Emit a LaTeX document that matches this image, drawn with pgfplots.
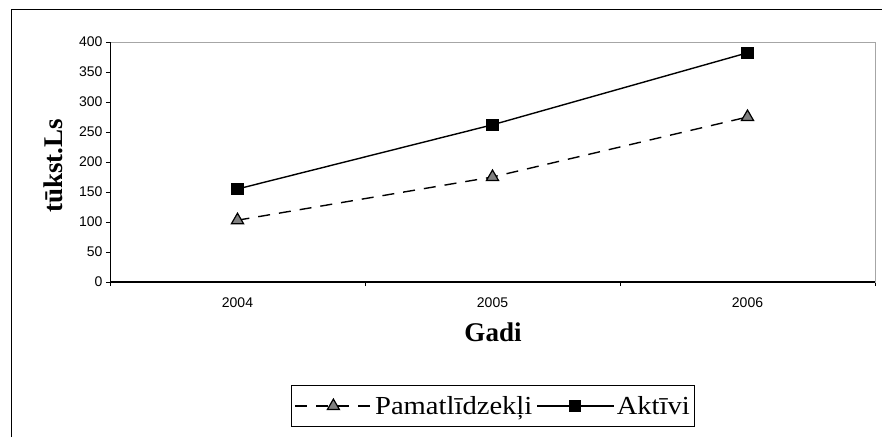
\documentclass[border=0pt]{standalone}
\usepackage{fontspec}
\setmainfont{Liberation Serif}
\newfontfamily\arial{Liberation Sans}
\newfontfamily\legfont[FakeStretch=1.1]{Liberation Serif}
\usepackage{pgfplots}
\pgfplotsset{compat=1.18}
\begin{document}
\begin{tikzpicture}[x=1pt,y=1pt]
\useasboundingbox (0,0) rectangle (882,437);
\draw[line width=1pt] (11,0) -- (11,427) -- (882,427);
\begin{axis}[
    at={(110pt,155pt)}, anchor=south west,
    scale only axis, width=765pt, height=240pt,
    xmin=-0.5, xmax=2.5, ymin=0, ymax=400,
    ytick={0,50,...,400},
    xtick={-0.5,0.5,1.5,2.5}, xticklabels={},
    extra x ticks={0,1,2},
    extra x tick labels={2004,2005,2006},
    extra x tick style={major tick length=0pt,
        xticklabel style={yshift=-12pt}},
    tick align=outside, xtick pos=bottom, ytick pos=left,
    major tick length=4pt,
    tick style={black, line width=0.8pt},
    axis line style={draw=gray!70, line width=1pt},
    ticklabel style={font=\arial\fontsize{14}{16}\selectfont},
    /pgf/number format/assume math mode=true,
    legend columns=-1,
    legend style={at={(0.501,-0.517)}, anchor=center,
        draw=black, line width=0.8pt, inner xsep=3pt, inner ysep=9pt,
        font=\legfont\fontsize{26}{28}\selectfont,
        /tikz/every even column/.append style={column sep=2pt}},
    legend image code/.code={\draw[#1, mark repeat=2, mark phase=2]
        plot coordinates {(0pt,0pt) (38pt,0pt) (77pt,0pt)};},
]
\addplot[black, line width=1.4pt, dash pattern=on 12pt off 9pt,
    mark=triangle*, mark size=7pt,
    mark options={solid, fill=gray, draw=black, line width=1.2pt}]
    coordinates {(0,103) (1,175) (2,275)};
\addplot[black, line width=1.4pt, mark=square*, mark size=5.5pt,
    mark options={fill=black}]
    coordinates {(0,155) (1,262) (2,382)};
\legend{Pamatlīdzekļi, Aktīvi}
\draw[black, line width=1.2pt] (rel axis cs:0,1) -- (rel axis cs:0,0) -- (rel axis cs:1,0);
\end{axis}
\node[font=\bfseries\fontsize{27}{29}\selectfont, anchor=base] at (493,96) {Gadi};
\node[font=\bfseries\fontsize{27}{29}\selectfont, rotate=90] at (53,271) {tūkst.Ls};
\end{tikzpicture}
\end{document}
